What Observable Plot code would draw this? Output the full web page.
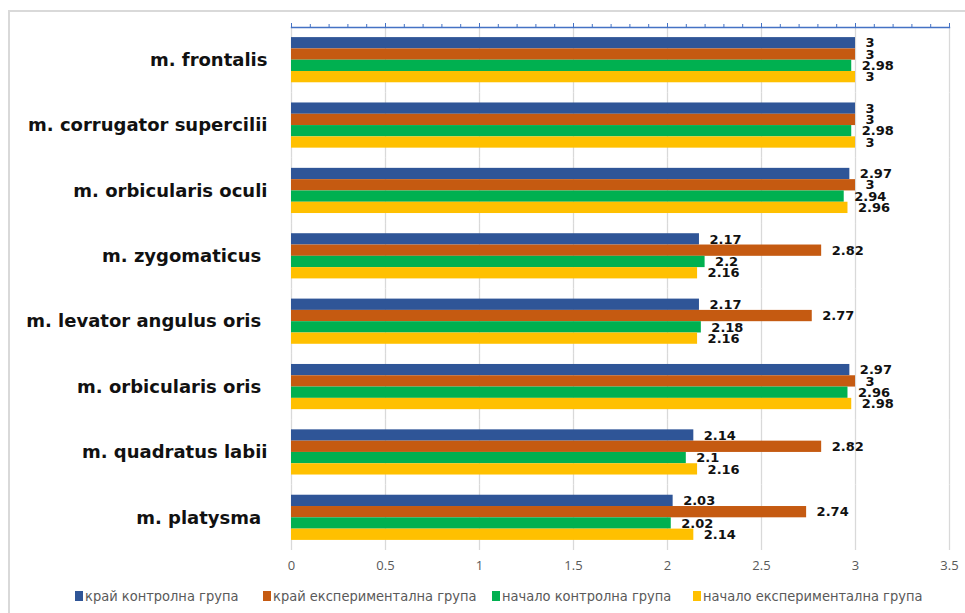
<!DOCTYPE html>
<html>
<head>
<meta charset="utf-8">
<script src="https://cdn.jsdelivr.net/npm/d3@7"></script>
<script src="https://cdn.jsdelivr.net/npm/@observablehq/plot@0.6"></script>
<style>
  html, body { margin: 0; padding: 0; background: #fff; }
  #page { position: relative; width: 965px; height: 613px; overflow: hidden; background: #fff; font-family: "Open Sans", sans-serif; }
  #border { position: absolute; left: 8px; top: 10px; width: 1000px; height: 700px; border-left: 2px solid #d9d9d9; border-top: 2px solid #d9d9d9; }
  #chart { position: absolute; left: 0; top: 0; }
  #chart svg text { white-space: pre; }
  #legend { position: absolute; left: 0; top: 588px; width: 965px; height: 20px; }
  .item { position: absolute; top: 0; display: flex; align-items: center; font-family: "DejaVu Sans", sans-serif; font-stretch: condensed; font-size: 14.5px; color: #595959; white-space: nowrap; }
  .swatch { width: 8px; height: 10px; margin-right: 2px; }
</style>
</head>
<body>
<div id="page">
  <div id="border"></div>
  <div id="chart"></div>
  <div id="legend"></div>
</div>
<script>
// Muscles (rows, top to bottom)
const muscles = [
  "m. frontalis",
  "m. corrugator supercilii",
  "m. orbicularis oculi",
  "m. zygomaticus ",
  "m. levator angulus oris ",
  "m. orbicularis oris ",
  "m. quadratus labii",
  "m. platysma "
];

// Series (bars within each row, top to bottom)
const seriesNames = [
  "край контролна група",
  "край експериментална група",
  "начало контролна група",
  "начало експериментална група"
];
const seriesColors = ["#2F5597", "#C55A11", "#00B050", "#FFC000"];

// Mean scores per muscle
const kraiKontrolna = [3, 3, 2.97, 2.17, 2.17, 2.97, 2.14, 2.03];
const kraiEksperimentalna = [3, 3, 3, 2.82, 2.77, 3, 2.82, 2.74];
const nachaloKontrolna = [2.98, 2.98, 2.94, 2.2, 2.18, 2.96, 2.1, 2.02];
const nachaloEksperimentalna = [3, 3, 2.96, 2.16, 2.16, 2.98, 2.16, 2.14];

// Axis ticks
const xTicks = [0, 0.5, 1, 1.5, 2, 2.5, 3, 3.5];
const xTickLabels = ["0", "0.5", "1", "1.5", "2", "2.5", "3", "3.5"];
const xMinorTicks = d3.range(0, 36).map(i => i / 10);

const seriesValues = [kraiKontrolna, kraiEksperimentalna, nachaloKontrolna, nachaloEksperimentalna];
const table = muscles.flatMap((m, i) =>
  seriesNames.map((s, j) => ({muscle: m, series: s, value: seriesValues[j][i]}))
);

const axisBlue = "#4472C4";

const chart = Plot.plot({
  width: 965,
  height: 585,
  marginLeft: 291,
  marginRight: 16,
  marginTop: 27,
  marginBottom: 35,
  style: {fontFamily: "'Open Sans', sans-serif", background: "transparent"},
  x: {domain: [0, 3.5], axis: null},
  y: {domain: seriesNames, paddingInner: 0, paddingOuter: 0.894, round: false, axis: null},
  fy: {domain: muscles, padding: 0, round: false, axis: null},
  color: {domain: seriesNames, range: seriesColors},
  marks: [
    Plot.ruleX(xTicks, {stroke: "#d9d9d9", strokeWidth: 1.3}),
    Plot.barX(table, {fy: "muscle", y: "series", x: "value", fill: "series"}),
    Plot.text(table, {
      fy: "muscle", y: "series", x: "value",
      text: d => String(d.value),
      dx: 10, textAnchor: "start",
      fontFamily: "'DejaVu Sans', sans-serif",
      fontWeight: "bold", fontSize: 13, fill: "#111"
    }),
    Plot.axisFy({
      anchor: "left", tickSize: 0, tickPadding: 24, label: null,
      fontFamily: "'DejaVu Sans', sans-serif",
      fontSize: 18, fontWeight: "bold", fill: "#111"
    }),
    Plot.axisX({
      anchor: "top", ticks: xMinorTicks, tickSize: 4, tickFormat: () => "",
      stroke: axisBlue, label: null
    }),
    Plot.axisX({
      anchor: "top", ticks: xTicks, tickSize: 5, tickFormat: () => "",
      stroke: axisBlue, label: null
    }),
    Plot.frame({anchor: "top", stroke: axisBlue, strokeWidth: 1.3, facetAnchor: "top"}),
    Plot.axisX({
      anchor: "bottom", ticks: xTicks, tickSize: 0, tickPadding: 10,
      tickFormat: d => xTickLabels[xTicks.indexOf(d)],
      fontSize: 13, fill: "#595959", label: null
    })
  ]
});
document.getElementById("chart").appendChild(chart);

// Legend below the plot
const legendX = [75, 263, 492, 693];
const legend = document.getElementById("legend");
seriesNames.forEach((name, i) => {
  const item = document.createElement("div");
  item.className = "item";
  item.style.left = legendX[i] + "px";
  const sw = document.createElement("span");
  sw.className = "swatch";
  sw.style.background = seriesColors[i];
  const label = document.createElement("span");
  label.textContent = name;
  item.appendChild(sw);
  item.appendChild(label);
  legend.appendChild(item);
});
</script>
</body>
</html>
